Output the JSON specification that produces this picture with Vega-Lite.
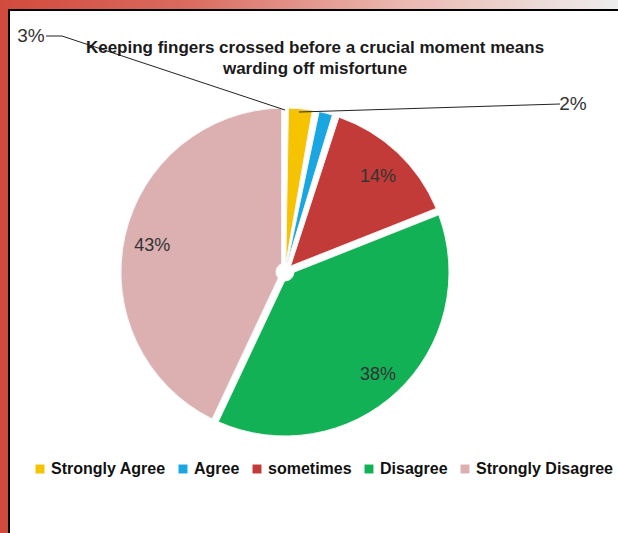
{
  "$schema": "https://vega.github.io/schema/vega-lite/v6.json",
  "width": 612,
  "height": 526,
  "autosize": {"type": "none"},
  "padding": {"left": 9, "top": 10, "right": 0, "bottom": 0},
  "background": "#D24A3D",
  "config": {
    "view": {"fill": "white", "stroke": "black", "strokeWidth": 2},
    "font": "Liberation Sans"
  },
  "datasets": {
    "slices": [
      {"category": "Strongly Agree", "percent": 3, "rank": 1, "label": "3%"},
      {"category": "Agree", "percent": 2, "rank": 2, "label": "2%"},
      {"category": "sometimes", "percent": 14, "rank": 3, "label": "14%"},
      {"category": "Disagree", "percent": 38, "rank": 4, "label": "38%"},
      {"category": "Strongly Disagree", "percent": 43, "rank": 5, "label": "43%"}
    ],
    "callouts": [
      {"label": "3%", "x": 31, "y": 36},
      {"label": "2%", "x": 573, "y": 104}
    ],
    "leaders": [
      {"id": "a", "x": 46, "y": 36, "k": 1},
      {"id": "a", "x": 62, "y": 36, "k": 2},
      {"id": "a", "x": 285, "y": 110, "k": 3},
      {"id": "b", "x": 299, "y": 112, "k": 1},
      {"id": "b", "x": 560, "y": 104, "k": 2}
    ],
    "band": [{"x": 0, "x2": 618, "y": 0, "y2": 9}]
  },
  "layer": [
    {
      "data": {"name": "band"},
      "mark": {
        "type": "rect",
        "clip": false,
        "color": {
          "gradient": "linear",
          "x1": 0, "x2": 1, "y1": 0, "y2": 0,
          "stops": [
            {"offset": 0, "color": "#D24A3D"},
            {"offset": 0.3, "color": "#DA6A5E"},
            {"offset": 0.65, "color": "#EBB8B0"},
            {"offset": 1, "color": "#EDEDED"}
          ]
        }
      },
      "encoding": {
        "x": {"field": "x", "type": "quantitative", "scale": {"domain": [9, 621]}, "axis": null},
        "x2": {"field": "x2"},
        "y": {"field": "y", "type": "quantitative", "scale": {"domain": [10, 536], "reverse": true}, "axis": null},
        "y2": {"field": "y2"}
      }
    },
    {
      "data": {"name": "slices"},
      "mark": {"type": "arc", "outerRadius": 164, "innerRadius": 9, "padAngle": 0.042, "stroke": "#f4f4f4", "strokeWidth": 1},
      "encoding": {
        "theta": {"field": "percent", "type": "quantitative", "stack": true},
        "order": {"field": "rank", "type": "quantitative"},
        "color": {
          "field": "category",
          "type": "nominal",
          "scale": {
            "domain": ["Strongly Agree", "Agree", "sometimes", "Disagree", "Strongly Disagree"],
            "range": ["#F5C300", "#1AA6E0", "#C23B38", "#12B156", "#DCB0B0"]
          },
          "legend": {
            "orient": "none",
            "legendX": 23,
            "legendY": 451,
            "direction": "horizontal",
            "columns": 5,
            "title": null,
            "labelFont": "Liberation Sans",
            "labelFontSize": 16,
            "labelFontWeight": "bold",
            "labelColor": "#111111",
            "labelLimit": 300,
            "symbolType": "square",
            "symbolSize": 80,
            "symbolStrokeWidth": 0,
            "columnPadding": 9,
            "labelOffset": 3
          }
        },
        "x": {"datum": 285, "type": "quantitative", "scale": {"domain": [9, 621]}, "axis": null},
        "y": {"datum": 272, "type": "quantitative", "scale": {"domain": [10, 536], "reverse": true}, "axis": null}
      }
    },
    {
      "data": {"name": "slices"},
      "mark": {"type": "text", "radius": 136, "fontSize": 18, "color": "#333333"},
      "encoding": {
        "theta": {"field": "percent", "type": "quantitative", "stack": true},
        "order": {"field": "rank", "type": "quantitative"},
        "text": {"field": "label"},
        "opacity": {"condition": {"test": "datum.percent < 10", "value": 0}, "value": 1},
        "x": {"datum": 285, "type": "quantitative", "scale": {"domain": [9, 621]}, "axis": null},
        "y": {"datum": 276, "type": "quantitative", "scale": {"domain": [10, 536], "reverse": true}, "axis": null}
      }
    },
    {
      "data": {"name": "leaders"},
      "mark": {"type": "line", "color": "#222222", "strokeWidth": 1, "clip": false},
      "encoding": {
        "x": {"field": "x", "type": "quantitative", "scale": {"domain": [9, 621]}, "axis": null},
        "y": {"field": "y", "type": "quantitative", "scale": {"domain": [10, 536], "reverse": true}, "axis": null},
        "detail": {"field": "id"},
        "order": {"field": "k"}
      }
    },
    {
      "data": {"name": "callouts"},
      "mark": {"type": "text", "fontSize": 19, "color": "#333333"},
      "encoding": {
        "x": {"field": "x", "type": "quantitative", "scale": {"domain": [9, 621]}, "axis": null},
        "y": {"field": "y", "type": "quantitative", "scale": {"domain": [10, 536], "reverse": true}, "axis": null},
        "text": {"field": "label"}
      }
    },
    {
      "data": {"values": [{"line1": "Keeping fingers crossed before a crucial moment means", "line2": "warding off misfortune"}]},
      "mark": {"type": "text", "fontSize": 17, "fontWeight": "bold", "color": "#1a1a1a", "lineHeight": 21},
      "encoding": {
        "x": {"datum": 315, "type": "quantitative", "scale": {"domain": [9, 621]}, "axis": null},
        "y": {"datum": 48, "type": "quantitative", "scale": {"domain": [10, 536], "reverse": true}, "axis": null},
        "text": {"value": ["Keeping fingers crossed before a crucial moment means", "warding off misfortune"]}
      }
    }
  ]
}
